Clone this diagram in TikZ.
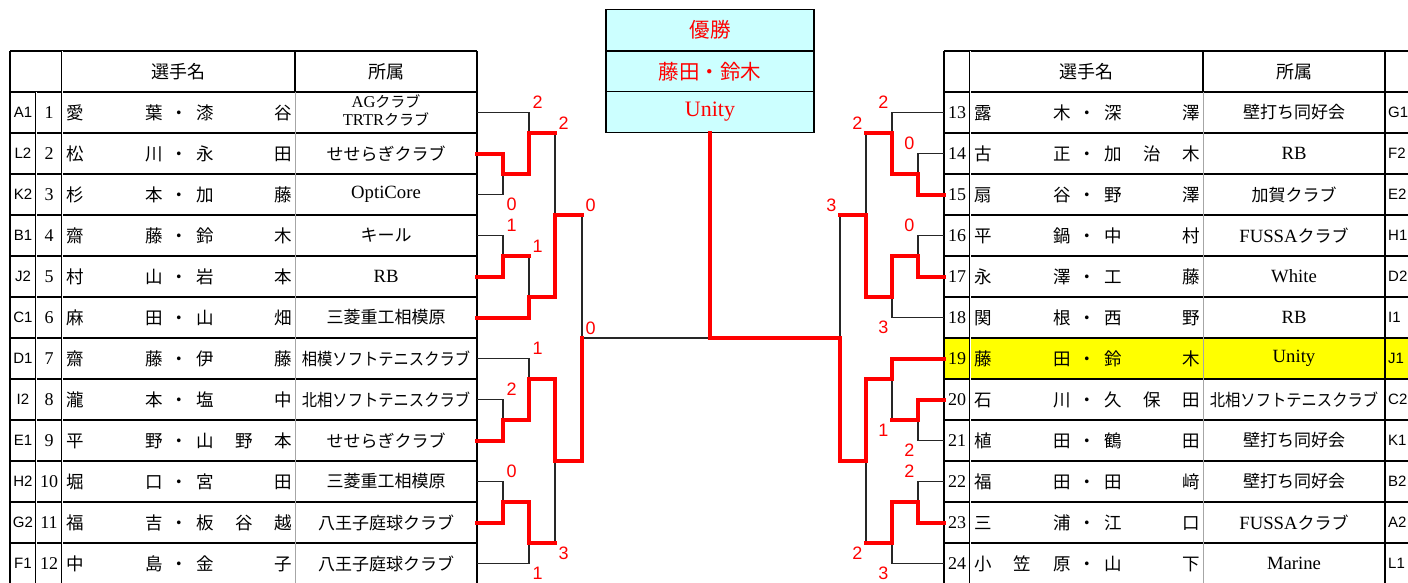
\documentclass[tikz,border=0pt]{standalone}
\usepackage{fontspec}
\usepackage{graphicx}
\setmainfont{Liberation Serif}
\newfontfamily\jpf{Noto Sans CJK JP}
\newfontfamily\arf{Liberation Sans}
\newfontfamily\lat{Liberation Serif}[Scale=1.1]
\newcommand\jp[1]{{\jpf #1}}
\newcommand\pname[2]{{\jpf\spaceskip=0pt plus 1fil\makebox[97pt][s]{#1}\makebox[33pt]{・}\makebox[96pt][s]{#2}}}
\newcommand\narrow[1]{\scalebox{0.9}[1]{#1}}
\definecolor{boxc}{HTML}{CCFFFF}
\definecolor{hilite}{HTML}{FFFF00}
\begin{document}
\begin{tikzpicture}[x=1pt,y=-1pt,line join=miter,
	outer/.style={line width=1.6pt},
	rowl/.style={line width=1.2pt},
	dbl/.style={double,double distance=0.9pt,line width=0.6pt},
	thin/.style={line width=0.6pt,gray!70},
	lose/.style={line width=1.4pt,black!85},
	win/.style={line width=4pt,red,line cap=rect},
	seed/.style={font=\arf\fontsize{15}{15}\selectfont,inner sep=0pt},
	num/.style={font=\fontsize{18}{20}\selectfont,inner sep=0pt},
	pl/.style={font=\fontsize{17.5}{20}\selectfont,inner sep=0pt,anchor=west},
	club/.style={font=\lat\fontsize{17}{20}\selectfont,inner sep=0pt,align=center},
	head/.style={font=\jpf\fontsize{18}{20}\selectfont,inner sep=0pt},
	box/.style={draw,line width=1.3pt,fill=boxc,minimum width=208pt,minimum height=41pt,inner sep=0pt,text=red},
	sc/.style={text=red,font=\arf\fontsize{18}{18}\selectfont,inner sep=0pt},
	scur/.style={sc,anchor=south west,xshift=3.5pt,yshift=3.5pt},
	scdr/.style={sc,anchor=north west,xshift=3.5pt,yshift=-3.5pt},
	scul/.style={sc,anchor=south east,xshift=-3.5pt,yshift=3.5pt},
	scdl/.style={sc,anchor=north east,xshift=-3.5pt,yshift=-3.5pt}]
	\clip (0,0) rectangle (1408,582);
	\fill[white] (0,0) rectangle (1408,582);
	\fill[hilite] (944,338) rectangle (1410,379);
	\foreach \k in {1,...,12} {
		\draw[rowl] (10,92+41*\k) -- (477,92+41*\k);
		\draw[rowl] (944,92+41*\k) -- (1410,92+41*\k);
	}
	\draw[outer] (10,51) -- (477,51) (10,92) -- (477,92) (944,51) -- (1410,51) (944,92) -- (1410,92);
	\draw[line width=2.2pt] (944,338) -- (1410,338) (944,379) -- (1410,379);
	\draw[outer] (10,51) -- (10,600) (477,51) -- (477,600) (944,51) -- (944,600) (1385,51) -- (1385,600);
	\draw[dbl] (36,92) -- (36,600) (62,51) -- (62,600) (970,51) -- (970,600);
	\draw[rowl] (295,51) -- (295,92) (1203,51) -- (1203,92);
	\draw[thin] (295,92) -- (295,600) (1203,92) -- (1203,600);
	\node[head] (hl1) at (178.5,71.5) {選手名};
	\node[head] (hl2) at (386,71.5) {所属};
	\node[head] (hr1) at (1086.5,71.5) {選手名};
	\node[head] (hr2) at (1294,71.5) {所属};
	\foreach \n/\sd/\fa/\gi/\cl [evaluate=\n as \yy using 71.5+41*\n] in {
		1/A1/愛 葉/漆 谷/{{\fontsize{15}{18}\selectfont\begin{tabular}{@{}c@{}}AG\jp{クラブ}\\TRTR\jp{クラブ}\end{tabular}}},
		2/L2/松 川/永 田/\jp{せせらぎクラブ},
		3/K2/杉 本/加 藤/OptiCore,
		4/B1/齋 藤/鈴 木/\jp{キール},
		5/J2/村 山/岩 本/RB,
		6/C1/麻 田/山 畑/\jp{三菱重工相模原},
		7/D1/齋 藤/伊 藤/\narrow{\jp{相模ソフトテニスクラブ}},
		8/I2/瀧 本/塩 中/\narrow{\jp{北相ソフトテニスクラブ}},
		9/E1/平 野/山 野 本/\jp{せせらぎクラブ},
		10/H2/堀 口/宮 田/\jp{三菱重工相模原},
		11/G2/福 吉/板 谷 越/\jp{八王子庭球クラブ},
		12/F1/中 島/金 子/\jp{八王子庭球クラブ}} {
		\node[seed] (sd\n) at (23,\yy) {\sd};
		\node[num] (no\n) at (49,\yy) {\n};
		\node[pl] (nm\n) at (66,\yy) {\pname{\fa}{\gi}};
		\node[club] (cl\n) at (386,\yy) {\cl};
		\coordinate (p\n) at (477,\yy);
	}
	\foreach \n/\sd/\fa/\gi/\cl [evaluate=\n as \yy using 71.5+41*(\n-12)] in {
		13/G1/露 木/深 澤/\jp{壁打ち同好会},
		14/F2/古 正/加 治 木/RB,
		15/E2/扇 谷/野 澤/\jp{加賀クラブ},
		16/H1/平 鍋/中 村/FUSSA\jp{クラブ},
		17/D2/永 澤/工 藤/White,
		18/I1/関 根/西 野/RB,
		19/J1/藤 田/鈴 木/Unity,
		20/C2/石 川/久 保 田/\narrow{\jp{北相ソフトテニスクラブ}},
		21/K1/植 田/鶴 田/\jp{壁打ち同好会},
		22/B2/福 田/田 﨑/\jp{壁打ち同好会},
		23/A2/三 浦/江 口/FUSSA\jp{クラブ},
		24/L1/小 笠 原/山 下/Marine} {
		\node[seed,anchor=west] (sd\n) at (1388,\yy) {\sd};
		\node[num] (no\n) at (957,\yy) {\n};
		\node[pl] (nm\n) at (974,\yy) {\pname{\fa}{\gi}};
		\node[club] (cl\n) at (1294,\yy) {\cl};
		\coordinate (p\n) at (944,\yy);
	}
	\node[box,font=\jpf\fontsize{20.5}{22}\selectfont] (title) at (710,30) {優勝};
	\node[box,font=\jpf\fontsize{20.5}{22}\selectfont] (pair) at (710,71.5) {藤田・鈴木};
	\node[box,font=\lat\fontsize{20}{22}\selectfont] (champ) at (710,112) {Unity};
	\coordinate (mA1) at (503,174); \coordinate (mA2) at (529,133);
	\coordinate (mB1) at (503,256); \coordinate (mB2) at (529,297);
	\coordinate (mC1) at (503,420); \coordinate (mC2) at (529,379);
	\coordinate (mD1) at (503,502); \coordinate (mD2) at (529,543);
	\coordinate (mAB) at (555,215); \coordinate (mCD) at (555,461);
	\coordinate (mL) at (582,338);
	\coordinate (mE1) at (918,174); \coordinate (mE2) at (892,133);
	\coordinate (mF1) at (918,256); \coordinate (mF2) at (892,297);
	\coordinate (mG1) at (918,420); \coordinate (mG2) at (892,379);
	\coordinate (mH1) at (918,502); \coordinate (mH2) at (892,543);
	\coordinate (mEF) at (866,215); \coordinate (mGH) at (866,461);
	\coordinate (mR) at (840,338);
	\draw[lose] (p1) -| (mA2);
	\draw[lose] (p3) -| (mA1);
	\draw[lose] (mA2 -| mAB) -- (mAB);
	\draw[lose] (p4) -| (mB1);
	\draw[lose] (mB1 -| mB2) -- (mB2);
	\draw[lose] (mAB -| mL) -- (mL);
	\draw[lose] (p7) -| (mC2);
	\draw[lose] (p8) -| (mC1);
	\draw[lose] (p10) -| (mD1);
	\draw[lose] (p12) -| (mD2);
	\draw[lose] (mD2 -| mCD) -- (mCD);
	\draw[lose] (mL) -- (mL -| champ.south);
	\draw[lose] (p13) -| (mE2);
	\draw[lose] (p14) -| (mE1);
	\draw[lose] (mE2 -| mEF) -- (mEF);
	\draw[lose] (p16) -| (mF1);
	\draw[lose] (p18) -| (mF2);
	\draw[lose] (mEF -| mR) -- (mR);
	\draw[lose] (p21) -| (mG1);
	\draw[lose] (mG1 -| mG2) -- (mG2);
	\draw[lose] (p22) -| (mH1);
	\draw[lose] (p24) -| (mH2);
	\draw[lose] (mH2 -| mGH) -- (mGH);
	\draw[win] (p2) -| (mA1) -| (mA2) -- (mA2 -| mAB);
	\draw[win] (p5) -| (mB1) -- (mB1 -| mB2);
	\draw[win] (p6) -| (mB2) -| (mAB) -- (mAB -| mL);
	\draw[win] (p9) -| (mC1) -| (mC2) -| (mCD) -| (mL);
	\draw[win] (p11) -| (mD1) -| (mD2) -- (mD2 -| mCD);
	\draw[win] (p15) -| (mE1) -| (mE2) -- (mE2 -| mEF);
	\draw[win] (p17) -| (mF1) -| (mF2) -| (mEF) -- (mEF -| mR);
	\draw[win] (p20) -| (mG1) -- (mG1 -| mG2);
	\draw[win] (p23) -| (mH1) -| (mH2) -- (mH2 -| mGH);
	\draw[win] (p19) -| (mG2) -| (mGH) -| (mR) -| (champ.south);
	\path (p1 -| mA2) node[scur] (s1) {2};
	\path (mA2 -| mAB) node[scur] (s2) {2};
	\path (p3 -| mA1) node[scdr] (s3) {0};
	\path (mAB -| mL) node[scur] (s4) {0};
	\path (p4 -| mB1) node[scur] (s5) {1};
	\path (mB1 -| mB2) node[scur] (s6) {1};
	\path (mL) node[scur] (s7) {0};
	\path (p7 -| mC2) node[scur] (s8) {1};
	\path (p8 -| mC1) node[scur] (s9) {2};
	\path (p10 -| mD1) node[scur] (s10) {0};
	\path (mD2 -| mCD) node[scdr] (s11) {3};
	\path (p12 -| mD2) node[scdr] (s12) {1};
	\path (p13 -| mE2) node[scul] (s13) {2};
	\path (mE2 -| mEF) node[scul] (s14) {2};
	\path (p14 -| mE1) node[scul] (s15) {0};
	\path (mEF -| mR) node[scul] (s16) {3};
	\path (p16 -| mF1) node[scul] (s17) {0};
	\path (p18 -| mF2) node[scdl] (s18) {3};
	\path (mG1 -| mG2) node[scdl] (s19) {1};
	\path (p21 -| mG1) node[scdl] (s20) {2};
	\path (p22 -| mH1) node[scul] (s21) {2};
	\path (mH2 -| mGH) node[scdl] (s22) {2};
	\path (p24 -| mH2) node[scdl] (s23) {3};
\end{tikzpicture}
\end{document}
